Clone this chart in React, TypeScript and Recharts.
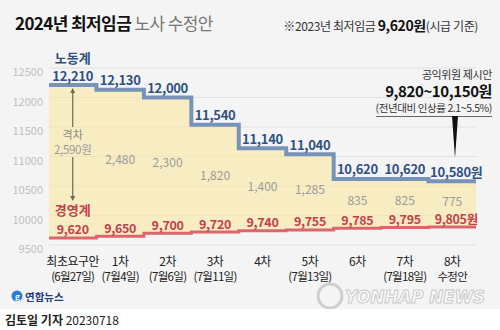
import {
  ComposedChart,
  Area,
  Line,
  XAxis,
  YAxis,
  CartesianGrid,
  LabelList,
  ReferenceLine,
} from "recharts";

const ROUNDS = ["최초요구안", "1차", "2차", "3차", "4차", "5차", "6차", "7차", "8차"];
const ROUND_NOTES = ["(6월27일)", "(7월4일)", "(7월6일)", "(7월11일)", "", "(7월13일)", "", "(7월18일)", "수정안"];
const LABOR = [12210, 12130, 12000, 11540, 11140, 11040, 10620, 10620, 10580];
const MGMT = [9620, 9650, 9700, 9720, 9740, 9755, 9785, 9795, 9805];
const GAP = [2590, 2480, 2300, 1820, 1400, 1285, 835, 825, 775];
const Y_TICKS = [9500, 10000, 10500, 11000, 11500, 12000, 12500];

const FONT = "'Noto Sans CJK KR', 'Noto Sans', sans-serif";
const BLUE = "#7793b9";
const NAVY = "#2f5183";
const RED = "#d9676c";
const DARK_RED = "#c43f4c";
const GRAY = "#9a9a9a";

type Row = { x: number; labor: number; mgmt: number; band: [number, number]; mid?: number; idx?: number };

// each round occupies one band [i, i+1]; the extra midpoint row carries the labels
const rows: Row[] = [];
LABOR.forEach((v, i) => {
  rows.push({ x: i, labor: v, mgmt: MGMT[i], band: [MGMT[i], v] });
  rows.push({ x: i + 0.5, labor: v, mgmt: MGMT[i], band: [MGMT[i], v], mid: (v + MGMT[i]) / 2, idx: i });
});
const lastI = LABOR.length - 1;
rows.push({ x: LABOR.length, labor: LABOR[lastI], mgmt: MGMT[lastI], band: [MGMT[lastI], LABOR[lastI]] });

const fmt = (n: number) => n.toLocaleString("en-US");

// eslint-disable-next-line @typescript-eslint/no-explicit-any
const pt = (p: any) => ({
  x: Number(p.x ?? p.viewBox?.x),
  y: Number(p.y ?? p.viewBox?.y),
  row: rows[p.index as number],
});

// eslint-disable-next-line @typescript-eslint/no-explicit-any
function LaborLabel(p: any) {
  const { x, y, row } = pt(p);
  if (!row || row.idx === undefined) return null;
  const last = row.idx === lastI;
  return (
    <g fontFamily={FONT}>
      {row.idx === 0 && (
        <text x={x} y={y - 28} textAnchor="middle" dominantBaseline="central" fontSize={13} fontWeight={700} fill={NAVY}>
          노동계
        </text>
      )}
      <text x={x + (last ? 4 : 0)} y={y - 10} textAnchor="middle" dominantBaseline="central"
            fontSize={13} fontWeight={600} fill={NAVY} letterSpacing={-0.3}>
        {fmt(row.labor)}{last ? "원" : ""}
      </text>
    </g>
  );
}

// eslint-disable-next-line @typescript-eslint/no-explicit-any
function MgmtLabel(p: any) {
  const { x, y, row } = pt(p);
  if (!row || row.idx === undefined) return null;
  const last = row.idx === lastI;
  return (
    <g fontFamily={FONT}>
      {row.idx === 0 && (
        <text x={x} y={y - 28} textAnchor="middle" dominantBaseline="central" fontSize={13} fontWeight={700} fill={DARK_RED}>
          경영계
        </text>
      )}
      <text x={x + (last ? 4 : 0)} y={y - 9} textAnchor="middle" dominantBaseline="central"
            fontSize={12.5} fontWeight={600} fill={DARK_RED} letterSpacing={-0.3}>
        {fmt(row.mgmt)}{last ? "원" : ""}
      </text>
    </g>
  );
}

// eslint-disable-next-line @typescript-eslint/no-explicit-any
function GapLabel(p: any) {
  const { x, y, row } = pt(p);
  if (!row || row.idx === undefined || row.idx === 0) return null;
  return (
    <text x={x} y={y - 4} textAnchor="middle" dominantBaseline="central" fontFamily={FONT} fontSize={12} fill={GRAY}>
      {fmt(GAP[row.idx])}
    </text>
  );
}

// eslint-disable-next-line @typescript-eslint/no-explicit-any
function GapArrow(p: any) {
  const x = Number(p.x1);
  const y1 = Number(p.y1);
  const y2 = Number(p.y2);
  const c = "#6d6a4f";
  return (
    <g fontFamily={FONT}>
      <line x1={x} x2={x} y1={y1 + 6} y2={y1 + 42} stroke={c} strokeWidth={1.2} />
      <polygon points={`${x - 2.5},${y1 + 8} ${x + 2.5},${y1 + 8} ${x},${y1 + 3}`} fill={c} />
      <text x={x} y={y1 + 49} textAnchor="middle" dominantBaseline="central" fontSize={11} fill="#8a8a8a">격차</text>
      <text x={x} y={y1 + 64} textAnchor="middle" dominantBaseline="central" fontSize={11.5} fill={GRAY}
            letterSpacing={-0.3}>
        {fmt(GAP[0])}원
      </text>
      <line x1={x} x2={x} y1={y1 + 72} y2={y2 - 40} stroke={c} strokeWidth={1.2} />
      <polygon points={`${x - 2.5},${y2 - 42} ${x + 2.5},${y2 - 42} ${x},${y2 - 37}`} fill={c} />
    </g>
  );
}

// eslint-disable-next-line @typescript-eslint/no-explicit-any
function RoundTick(p: any) {
  const i = Math.floor(p.payload.value);
  return (
    <g fontFamily={FONT} fill="#222">
      <text x={p.x} y={p.y + 7.5} textAnchor="middle" dominantBaseline="central" fontSize={12} letterSpacing={-0.5}>
        {ROUNDS[i]}
      </text>
      {ROUND_NOTES[i] && (
        <text x={p.x} y={p.y + 23} textAnchor="middle" dominantBaseline="central" fontSize={11.5} letterSpacing={-0.7}>
          {ROUND_NOTES[i]}
        </text>
      )}
    </g>
  );
}

// eslint-disable-next-line @typescript-eslint/no-explicit-any
function WageTick(p: any) {
  return (
    <text x={p.x} y={p.y + 3} textAnchor="end" dominantBaseline="central" fontFamily={FONT} fontSize={11} fill="#c0c0c0">
      {p.payload.value}
    </text>
  );
}

export default function App() {
  return (
    <div style={{ position: "absolute", left: 0, top: 0, width: 500, height: 330, background: "#f4f4f4",
                  fontFamily: FONT, overflow: "hidden" }}>
      <ComposedChart width={500} height={310} data={rows} margin={{ top: 68, right: 24, left: 0, bottom: 0 }}>
        <CartesianGrid horizontal vertical={false} stroke="#e0e0e0" />
        <XAxis
          type="number"
          dataKey="x"
          domain={[0, ROUNDS.length]}
          ticks={ROUNDS.map((_, i) => i + 0.5)}
          interval={0}
          height={65}
          axisLine={false}
          tickLine={false}
          tick={<RoundTick />}
        />
        <YAxis
          domain={[9500, 12500]}
          ticks={Y_TICKS}
          width={49}
          axisLine={false}
          tickLine={false}
          tickMargin={0}
          tick={<WageTick />}
        />
        <Area type="stepAfter" dataKey="band" fill="#fae7a0" fillOpacity={0.6} stroke="none" isAnimationActive={false} />
        <Line type="stepAfter" dataKey="labor" stroke={BLUE} strokeWidth={4} dot={false} isAnimationActive={false}>
          <LabelList dataKey="labor" content={LaborLabel} />
        </Line>
        <Line type="stepAfter" dataKey="mgmt" stroke={RED} strokeWidth={3} dot={false} isAnimationActive={false}>
          <LabelList dataKey="mgmt" content={MgmtLabel} />
        </Line>
        <Line dataKey="mid" stroke="none" dot={false} activeDot={false} isAnimationActive={false}>
          <LabelList dataKey="mid" content={GapLabel} />
        </Line>
        <ReferenceLine
          segment={[{ x: 0.5, y: LABOR[0] }, { x: 0.5, y: MGMT[0] }]}
          shape={GapArrow}
        />
      </ComposedChart>

      {/* title */}
      <div style={{ position: "absolute", left: 15, top: 12, fontSize: 17, lineHeight: "22px", letterSpacing: -0.6, whiteSpace: "nowrap" }}>
        <span style={{ fontWeight: 700, color: "#111" }}>2024년 최저임금</span>{" "}
        <span style={{ fontWeight: 400, color: "#777" }}>노사 수정안</span>
      </div>
      <div style={{ position: "absolute", right: 22, top: 15, fontSize: 12, lineHeight: "20px", color: "#333", letterSpacing: -0.4, whiteSpace: "nowrap" }}>
        ※2023년 최저임금 <span style={{ fontSize: 14, fontWeight: 700, color: "#111" }}>9,620원</span>(시급 기준)
      </div>

      {/* public interest proposal note */}
      <div style={{ position: "absolute", right: 8, top: 66, textAlign: "right", color: "#333", letterSpacing: -0.4, whiteSpace: "nowrap" }}>
        <div style={{ fontSize: 11, lineHeight: "16px" }}>공익위원 제시안</div>
        <div style={{ fontSize: 15, lineHeight: "18px", fontWeight: 700, color: "#111" }}>9,820~10,150원</div>
        <div style={{ fontSize: 10.5, lineHeight: "15px", borderBottom: "1px solid #666", paddingBottom: 1 }}>
          (전년대비 인상률 2.1~5.5%)
        </div>
      </div>
      <svg style={{ position: "absolute", left: 0, top: 0 }} width={500} height={330}>
        <polygon points="452,116 458,116 455,158" fill="#111" />
      </svg>

      {/* credits */}
      <svg style={{ position: "absolute", left: 0, top: 282 }} width={500} height={28}>
        <circle cx={17} cy={14} r={5.5} fill="#2a7fd4" />
        <text x={15} y={17.5} fontSize={8} fontWeight={700} fill="#fff" fontFamily={FONT}>g</text>
        <text x={25} y={14} dominantBaseline="central" fontSize={10.5} fontWeight={700} fill="#1d3f7a" fontFamily={FONT}>연합뉴스</text>
        <circle cx={330} cy={14} r={12} fill="none" stroke="#cfcfcf" strokeWidth={3} />
        <text x={345} y={21} fontSize={17} fontWeight={800} fontStyle="italic" fill="#fbfbfb" stroke="#c9c9c9"
              strokeWidth={1} fontFamily="'DejaVu Sans', sans-serif" textLength={140} lengthAdjust="spacingAndGlyphs">
          YONHAP NEWS
        </text>
      </svg>
      <div style={{ position: "absolute", left: 0, top: 309, width: 500, height: 21, background: "#fff" }}>
        <div style={{ position: "absolute", left: 5, top: 2, fontSize: 12, lineHeight: "18px", color: "#222", whiteSpace: "nowrap" }}>
          <span style={{ fontWeight: 700 }}>김토일 기자</span> 20230718
        </div>
      </div>
    </div>
  );
}
